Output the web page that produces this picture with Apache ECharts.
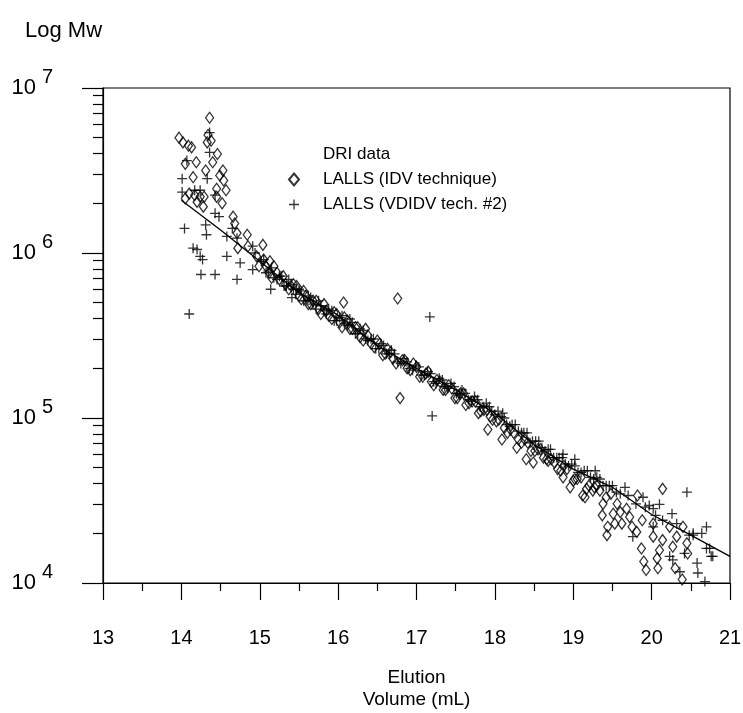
<!DOCTYPE html>
<html>
<head>
<meta charset="utf-8">
<script src="https://cdn.jsdelivr.net/npm/echarts@6/dist/echarts.min.js"></script>
<style>
html,body{margin:0;padding:0;background:#fff;}
#chart{width:743px;height:713px;}
</style>
</head>
<body>
<div id="chart"></div>
<script>
// ---- DATA ----
const xTickLabels = ['13','14','15','16','17','18','19','20','21'];
const yMajorTicks = [1e4, 1e5, 1e6, 1e7];
const yMinorTicks = [2e4,3e4,4e4,5e4,6e4,7e4,8e4,9e4,
                     2e5,3e5,4e5,5e5,6e5,7e5,8e5,9e5,
                     2e6,3e6,4e6,5e6,6e6,7e6,8e6,9e6];

// DRI data (calibration line): [elution volume mL, Mw]
const driLine = [
  [14.0, 2.09e6],[14.5, 1.38e6],[15.0, 8.9e5],[15.5, 5.75e5],[16.0, 4.2e5],
  [16.5, 2.75e5],[17.0, 2.0e5],[17.5, 1.48e5],[18.0, 1.07e5],[18.5, 6.9e4],
  [19.0, 4.9e4],[19.5, 3.8e4],[20.0, 2.6e4],[20.5, 1.95e4],[21.0, 1.45e4]
];

// LALLS (IDV technique) - diamonds
const idvData = [
  [13.97,5.0e6],[14.02,4.68e6],[14.09,4.47e6],[14.13,4.37e6],[14.36,6.6e6],[14.34,5.19e6],
  [14.38,4.79e6],[14.33,4.68e6],[14.46,3.98e6],[14.40,3.55e6],[14.19,3.55e6],[14.05,3.47e6],
  [14.15,2.88e6],[14.31,3.16e6],[14.53,3.16e6],[14.49,2.95e6],[14.54,2.75e6],[14.45,2.45e6],
  [14.57,2.40e6],[14.10,2.29e6],[14.17,2.24e6],[14.24,2.19e6],[14.29,2.19e6],[14.05,2.14e6],
  [14.20,2.04e6],[14.28,1.91e6],[14.52,2.0e6],[14.45,2.19e6],[14.66,1.66e6],[14.68,1.51e6],
  [14.71,1.32e6],[14.84,1.29e6],[15.04,1.12e6],[14.72,1.07e6],[14.85,1.10e6],[14.96,9.55e5],
  [15.13,8.91e5],[14.99,8.32e5],
  [15.05,9.12e5],[15.12,7.59e5],[15.18,8.32e5],[15.25,6.92e5],[15.30,7.24e5],[15.37,6.03e5],
  [15.43,6.46e5],[15.50,5.50e5],[15.56,5.89e5],[15.62,4.90e5],[15.68,5.13e5],[15.75,4.57e5],
  [15.82,4.90e5],[15.88,4.17e5],[15.95,4.37e5],[16.02,3.80e5],[16.07,5.01e5],[16.08,4.07e5],
  [16.15,3.47e5],[16.22,3.55e5],[16.28,3.09e5],[16.35,3.47e5],[16.42,2.82e5],[16.50,2.95e5],
  [16.57,2.40e5],[16.63,2.63e5],[16.70,2.29e5],[16.76,5.3e5],[16.79,1.32e5],[16.85,2.24e5],
  [16.92,1.95e5],[17.00,2.04e5],[17.08,1.78e5],[17.15,1.91e5],[17.22,1.58e5],[17.30,1.66e5],
  [17.37,1.48e5],[17.45,1.51e5],[17.52,1.32e5],[17.60,1.41e5],[17.67,1.23e5],[17.75,1.26e5],
  [17.82,1.10e5],[17.90,1.12e5],[17.91,8.51e4],[17.97,9.77e4],[18.05,9.77e4],[18.09,7.41e4],
  [18.12,8.71e4],[18.20,8.51e4],[18.28,6.61e4],[18.30,7.41e4],[18.38,7.41e4],[18.40,5.62e4],
  [18.46,6.31e4],[18.49,5.37e4],[18.55,6.46e4],[18.62,5.75e4],[18.66,5.62e4],[18.72,5.62e4],
  [18.80,4.90e4],[18.87,4.37e4],[18.88,5.13e4],[18.96,3.80e4],[19.00,4.17e4],[19.05,4.27e4],
  [19.12,3.39e4],[19.15,3.31e4],[19.20,3.89e4],[19.25,3.63e4],[19.30,3.89e4],
  [15.08,8.32e5],[15.15,7.08e5],[15.22,7.59e5],[15.33,6.46e5],[15.40,6.31e5],[15.47,6.31e5],
  [15.53,5.25e5],[15.59,5.50e5],[15.65,4.90e5],[15.72,5.13e5],[15.78,4.27e5],[15.85,4.47e5],
  [15.92,3.98e5],[15.98,4.27e5],[16.05,3.55e5],[16.12,3.89e5],[16.18,3.47e5],[16.25,3.55e5],
  [16.32,2.95e5],[16.38,3.16e5],[16.46,2.69e5],[16.53,2.82e5],[16.60,2.45e5],[16.67,2.51e5],
  [16.74,2.14e5],[16.82,2.24e5],[16.88,2.0e5],[16.96,2.14e5],[17.04,1.78e5],[17.12,1.86e5],
  [17.19,1.66e5],[17.26,1.70e5],[17.34,1.48e5],[17.41,1.58e5],[17.49,1.32e5],[17.56,1.41e5],
  [17.63,1.20e5],[17.71,1.26e5],[17.79,1.07e5],[17.86,1.12e5],[17.94,1.02e5],[18.02,9.55e4],
  [18.16,8.13e4],[18.24,8.13e4],[18.34,7.08e4],[18.42,7.08e4],[18.51,6.31e4],[18.58,6.46e4],
  [18.68,5.50e4],[18.76,5.37e4],[18.84,4.79e4],[18.92,4.90e4],[19.02,4.27e4],[19.10,4.37e4],
  [19.17,3.72e4],[19.27,3.80e4],[19.34,3.63e4],[19.42,3.31e4],[19.48,3.47e4],
  [19.37,2.57e4],[19.43,1.95e4],[19.38,3.02e4],[19.44,2.19e4],[19.51,2.63e4],[19.53,2.29e4],
  [19.56,3.02e4],[19.60,2.69e4],[19.62,2.29e4],[19.68,2.82e4],[19.72,2.51e4],[19.75,2.19e4],
  [19.81,2.04e4],[19.82,3.39e4],[19.87,1.62e4],[19.88,2.40e4],[19.90,1.35e4],[19.93,1.20e4],
  [20.02,2.29e4],[20.02,1.91e4],[20.07,1.41e4],[20.08,1.23e4],[20.10,1.58e4],[20.14,1.82e4],
  [20.14,3.72e4],[20.23,2.19e4],[20.27,1.66e4],[20.30,1.23e4],[20.32,1.91e4],[20.39,1.05e4],
  [20.40,2.19e4],[20.45,1.74e4],[20.46,1.51e4]
];

// LALLS (VDIDV tech. #2) - plus signs
const vdidvData = [
  [14.36,5.37e6],[14.36,4.07e6],[14.07,3.63e6],[14.01,2.82e6],[14.33,2.82e6],[14.01,2.34e6],
  [14.17,2.40e6],[14.24,2.40e6],[14.43,2.24e6],[14.43,1.74e6],[14.48,1.66e6],[14.31,1.48e6],
  [14.32,1.29e6],[14.04,1.41e6],[14.15,1.07e6],[14.20,1.05e6],[14.24,9.55e5],[14.27,9.12e5],
  [14.25,7.41e5],[14.43,7.41e5],[14.10,4.27e5],[14.71,6.92e5],[14.58,9.55e5],[14.58,1.26e6],
  [14.71,1.23e6],[14.75,8.71e5],[14.65,1.41e6],[14.91,1.10e6],[14.94,1.0e6],[15.14,6.03e5],
  [14.91,7.94e5],[15.41,5.37e5],[15.47,6.03e5],
  [15.02,8.91e5],[15.08,7.59e5],[15.15,8.13e5],[15.22,6.92e5],[15.28,7.24e5],[15.34,6.31e5],
  [15.40,6.46e5],[15.46,5.62e5],[15.53,5.89e5],[15.59,5.13e5],[15.65,5.37e5],[15.72,4.57e5],
  [15.78,4.79e5],[15.85,4.27e5],[15.92,4.47e5],[15.98,3.89e5],[16.05,4.17e5],[16.12,3.63e5],
  [16.18,3.80e5],[16.25,3.24e5],[16.32,3.39e5],[16.38,2.95e5],[16.45,3.02e5],[16.52,2.63e5],
  [16.58,2.75e5],[16.65,2.45e5],[16.72,2.45e5],[16.80,2.14e5],[16.88,2.19e5],[16.95,1.95e5],
  [17.03,2.04e5],[17.10,1.82e5],[17.17,4.1e5],[17.20,1.03e5],[17.18,1.86e5],[17.25,1.62e5],
  [17.33,1.70e5],[17.40,1.51e5],[17.48,1.55e5],[17.55,1.38e5],[17.62,1.41e5],[17.70,1.26e5],
  [17.78,1.29e5],[17.85,1.17e5],[17.93,1.17e5],[18.00,1.05e5],[18.10,1.07e5],[18.08,1.02e5],
  [18.15,9.12e4],[18.22,9.12e4],[18.30,8.32e4],[18.37,8.13e4],[18.45,7.08e4],[18.52,7.24e4],
  [18.60,6.61e4],[18.68,6.46e4],[18.75,5.75e4],[18.82,5.75e4],[18.87,6.03e4],[18.90,5.25e4],
  [18.98,5.25e4],[19.02,5.62e4],[19.06,4.68e4],[19.14,4.79e4],[19.22,4.37e4],[19.28,4.79e4],
  [19.30,4.37e4],[19.38,3.89e4],[19.46,3.89e4],[19.55,3.55e4],[19.66,3.80e4],
  [15.05,9.12e5],[15.11,7.76e5],[15.18,7.08e5],[15.25,7.24e5],[15.31,6.31e5],[15.37,6.92e5],
  [15.43,6.03e5],[15.50,6.03e5],[15.56,5.13e5],[15.62,5.50e5],[15.68,4.90e5],[15.75,5.13e5],
  [15.82,4.47e5],[15.88,4.57e5],[15.95,3.89e5],[16.02,4.07e5],[16.08,3.72e5],[16.15,3.98e5],
  [16.22,3.24e5],[16.28,3.47e5],[16.35,3.02e5],[16.42,3.02e5],[16.48,2.63e5],[16.55,2.82e5],
  [16.62,2.45e5],[16.68,2.57e5],[16.76,2.19e5],[16.84,2.29e5],[16.91,2.0e5],[16.99,2.09e5],
  [17.06,1.82e5],[17.14,1.91e5],[17.22,1.66e5],[17.29,1.74e5],[17.36,1.55e5],[17.44,1.62e5],
  [17.51,1.41e5],[17.58,1.48e5],[17.66,1.29e5],[17.74,1.35e5],[17.81,1.17e5],[17.89,1.23e5],
  [17.96,1.10e5],[18.04,1.10e5],[18.12,1.0e5],[18.19,8.91e4],[18.26,9.12e4],[18.34,8.13e4],
  [18.41,8.13e4],[18.48,7.24e4],[18.56,7.24e4],[18.64,6.31e4],[18.71,6.46e4],[18.79,5.75e4],
  [18.86,5.75e4],[18.94,5.13e4],[19.02,5.13e4],[19.10,4.68e4],[19.18,4.79e4],[19.26,4.27e4],
  [19.34,4.27e4],[19.42,3.89e4],[19.50,3.89e4],[19.60,3.47e4],[19.70,3.39e4],[19.80,3.02e4],
  [19.92,2.88e4],[20.05,2.57e4],[20.48,1.95e4],
  [19.76,1.91e4],[19.89,3.31e4],[19.97,2.95e4],[20.02,2.82e4],[20.02,2.19e4],[20.10,3.0e4],
  [20.14,2.40e4],[20.23,1.45e4],[20.26,2.63e4],[20.27,1.38e4],[20.32,2.29e4],[20.36,1.17e4],
  [20.42,1.51e4],[20.45,3.55e4],[20.53,1.95e4],[20.53,2.0e4],[20.58,1.32e4],[20.59,1.15e4],
  [20.64,2.0e4],[20.68,1.02e4],[20.70,2.19e4],[20.70,1.62e4],[20.74,1.62e4],[20.76,1.45e4],
  [20.78,1.45e4]
];

const seriesNames = ['DRI data', 'LALLS (IDV technique)', 'LALLS (VDIDV tech. #2)'];

// ---- CHART ----
const FONT = 'Liberation Sans, Arial, Helvetica, sans-serif';
const chart = echarts.init(document.getElementById('chart'), null, {renderer: 'canvas'});
const plusPath = 'path://M4.35,0H5.65V4.35H10V5.65H5.65V10H4.35V5.65H0V4.35H4.35Z';

function expLabel(v) {
  const e = Math.round(Math.log10(v));
  return '{b|10}{e|' + e + '}';
}

const option = {
  animation: false,
  backgroundColor: '#fff',
  textStyle: {fontFamily: FONT, color: '#000'},
  title: {
    text: 'Log Mw', left: 20, top: 15,
    textStyle: {fontFamily: FONT, fontSize: 22, fontWeight: 'normal', color: '#000'}
  },
  grid: {
    left: 103, right: 13, top: 88, bottom: 130, show: true,
    borderColor: '#000', borderWidth: 1.2, backgroundColor: 'transparent',
    containLabel: false, outerBoundsMode: 'none'
  },
  legend: {
    orient: 'vertical', left: 283, top: 141, itemWidth: 10, itemHeight: 12, itemGap: 8,
    textStyle: {fontFamily: FONT, fontSize: 17, color: '#000', padding: [0,0,0,19]},
    data: [
      {name: seriesNames[0], icon: 'circle', itemStyle: {color: 'transparent', borderWidth: 0, opacity: 0}},
      {name: seriesNames[1]},
      {name: seriesNames[2]}
    ],
    selectedMode: false
  },
  xAxis: {
    type: 'value', min: 13, max: 21, interval: 1,
    name: 'Elution\nVolume (mL)', nameLocation: 'middle', nameGap: 84,
    nameTextStyle: {fontFamily: FONT, fontSize: 19, lineHeight: 22, color: '#000'},
    axisLine: {show: true, onZero: false, lineStyle: {color: '#000', width: 1.2}},
    axisTick: {show: true, length: 17, lineStyle: {color: '#000', width: 1.2}},
    minorTick: {show: true, splitNumber: 2, length: 8, lineStyle: {color: '#000', width: 1.2}},
    axisLabel: {
      margin: 45, fontFamily: FONT, fontSize: 20, color: '#000',
      formatter: function (v) { return xTickLabels[Math.round(v - 13)]; }
    },
    splitLine: {show: false}
  },
  yAxis: [
    {
      type: 'log', logBase: 10, min: 1e4, max: 1e7,
      axisLine: {show: true, lineStyle: {color: '#000', width: 1.2}},
      axisTick: {show: true, length: 21, customValues: yMajorTicks, lineStyle: {color: '#000', width: 1.2}},
      axisLabel: {
        customValues: yMajorTicks, margin: 50, fontFamily: FONT, color: '#000',
        formatter: expLabel,
        rich: {
          b: {fontFamily: FONT, fontSize: 22, color: '#000'},
          e: {fontFamily: FONT, fontSize: 20, color: '#000', padding: [0, 0, 22, 6]}
        }
      },
      splitLine: {show: false}
    },
    {
      type: 'log', logBase: 10, min: 1e4, max: 1e7, position: 'left',
      axisLine: {show: false},
      axisTick: {show: true, length: 10, customValues: yMinorTicks, lineStyle: {color: '#000', width: 1.2}},
      axisLabel: {show: false},
      splitLine: {show: false}
    }
  ],
  series: [
    {
      name: seriesNames[0], type: 'line', data: driLine, yAxisIndex: 0,
      showSymbol: false, symbol: 'none', smooth: false,
      lineStyle: {color: '#000', width: 1.3}, itemStyle: {color: '#000'}, z: 3
    },
    {
      name: seriesNames[1], type: 'scatter', data: idvData, yAxisIndex: 0,
      symbol: 'diamond', symbolSize: [8, 11],
      itemStyle: {color: 'rgba(0,0,0,0)', borderColor: '#000', borderWidth: 1.3}, z: 2
    },
    {
      name: seriesNames[2], type: 'scatter', data: vdidvData, yAxisIndex: 0,
      symbol: plusPath, symbolSize: 10,
      itemStyle: {color: '#000'}, z: 2
    }
  ]
};
chart.setOption(option);
</script>
</body>
</html>
